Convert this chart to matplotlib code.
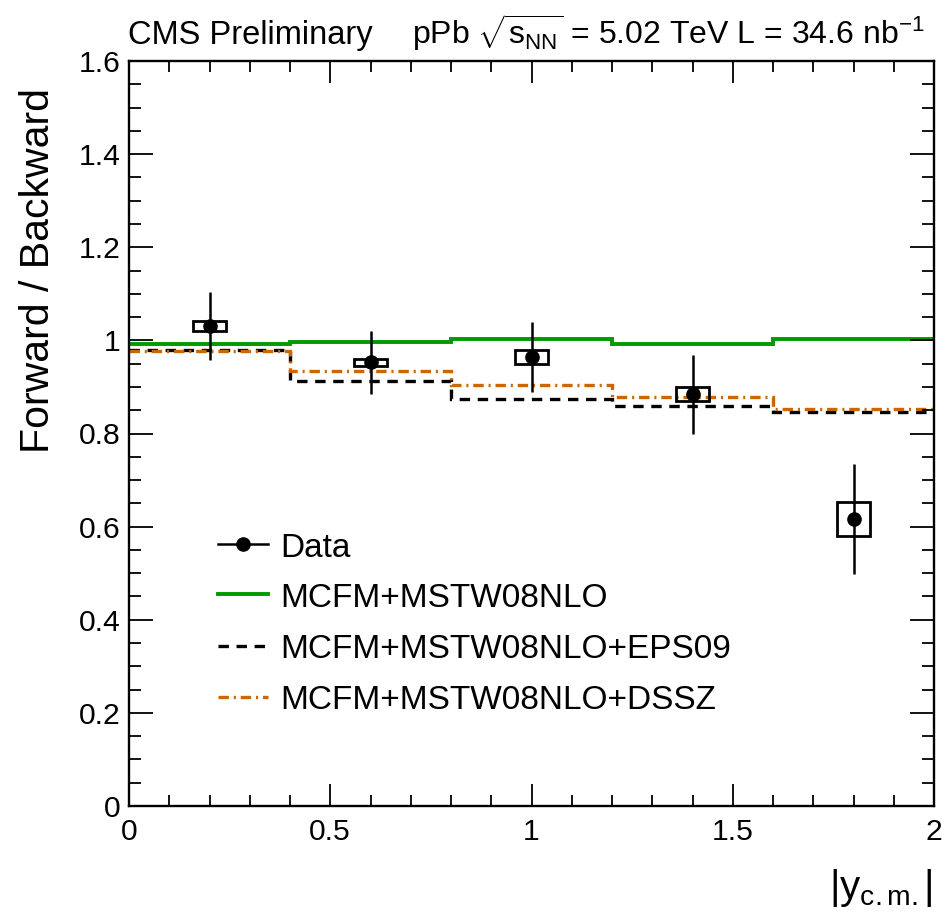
import matplotlib
matplotlib.use("Agg")
import matplotlib.pyplot as plt
from matplotlib.lines import Line2D
from matplotlib.patches import Rectangle
from matplotlib.ticker import MultipleLocator, FuncFormatter
import numpy as np

plt.rcParams['font.family'] = ['Liberation Sans', 'DejaVu Sans']
plt.rcParams['mathtext.fontset'] = 'custom'
plt.rcParams['mathtext.rm'] = 'Liberation Sans'
plt.rcParams['mathtext.it'] = 'Liberation Sans:italic'
plt.rcParams['mathtext.bf'] = 'Liberation Sans:bold'
plt.rcParams['lines.scale_dashes'] = False

# rapidity bins and measured forward/backward ratio
bin_edges = [0.0, 0.4, 0.8, 1.2, 1.6, 2.0]
bin_centers = [0.2, 0.6, 1.0, 1.4, 1.8]
data_ratio = [1.031, 0.953, 0.964, 0.884, 0.616]
data_stat = [0.073, 0.068, 0.075, 0.085, 0.118]
data_syst = [0.011, 0.008, 0.015, 0.015, 0.036]
box_halfwidth = 0.04

# theory predictions per bin
mcfm_mstw = [0.993, 0.996, 1.003, 0.992, 1.002]
mcfm_eps09 = [0.979, 0.913, 0.874, 0.858, 0.846]
mcfm_dssz = [0.977, 0.935, 0.904, 0.879, 0.853]

labels = ["Data", "MCFM+MSTW08NLO", "MCFM+MSTW08NLO+EPS09", "MCFM+MSTW08NLO+DSSZ"]

green = '#009900'
orange = '#cc6600'

W, H = 942, 914
fig = plt.figure(figsize=(W / 100, H / 100), dpi=100)
ax = fig.add_axes([129 / W, (H - 806) / H, 805 / W, 745 / H])

dash_black = (0, (7.5, 5.5))
dash_orange = (0, (7.5, 3.5, 1.5, 3.5))

ax.stairs(mcfm_mstw, bin_edges, color=green, lw=2.8, baseline=None)
ax.stairs(mcfm_eps09, bin_edges, color='black', lw=2.4, ls=dash_black, baseline=None)
ax.stairs(mcfm_dssz, bin_edges, color=orange, lw=2.4, ls=dash_orange, baseline=None)

for xc, yv, es in zip(bin_centers, data_ratio, data_syst):
    ax.add_patch(Rectangle((xc - box_halfwidth, yv - es), 2 * box_halfwidth, 2 * es,
                           fill=False, ec='black', lw=2.0, zorder=4))
ax.errorbar(bin_centers, data_ratio, yerr=data_stat, fmt='o', color='black',
            ms=9.5, elinewidth=1.8, capsize=0, zorder=5)

ax.set_xlim(0, 2)
ax.set_ylim(0, 1.6)
ax.xaxis.set_major_locator(MultipleLocator(0.5))
ax.xaxis.set_minor_locator(MultipleLocator(0.1))
ax.yaxis.set_major_locator(MultipleLocator(0.2))
ax.yaxis.set_minor_locator(MultipleLocator(0.05))
fmt = FuncFormatter(lambda v, p: ('%g' % round(v, 3)))
ax.xaxis.set_major_formatter(fmt)
ax.yaxis.set_major_formatter(fmt)
ax.tick_params(which='both', direction='in', top=True, right=True,
               labelsize=21.7, width=1.3)
ax.tick_params(axis='y', which='major', length=17, pad=6)
ax.tick_params(axis='y', which='minor', length=8.5)
ax.tick_params(axis='x', which='major', length=16, pad=9)
ax.tick_params(axis='x', which='minor', length=8)
for s in ax.spines.values():
    s.set_linewidth(1.7)

# legend drawn by hand in axes coordinates
rows_y = [0.3517, 0.2846, 0.2152, 0.1467]
hx0, hx1, tx = 0.1106, 0.1727, 0.1876
ax.add_line(Line2D([hx0, hx1], [rows_y[0]] * 2, color='black', lw=1.8,
                   transform=ax.transAxes))
ax.add_line(Line2D([(hx0 + hx1) / 2], [rows_y[0]], marker='o', ms=9.5, color='black',
                   transform=ax.transAxes))
ax.add_line(Line2D([hx0, hx1], [rows_y[1]] * 2, color=green, lw=2.8,
                   transform=ax.transAxes))
ax.add_line(Line2D([hx0, hx1], [rows_y[2]] * 2, color='black', lw=2.4, ls=dash_black,
                   transform=ax.transAxes))
ax.add_line(Line2D([hx0, hx1], [rows_y[3]] * 2, color=orange, lw=2.4, ls=dash_orange,
                   transform=ax.transAxes))
for yy, lab in zip(rows_y, labels):
    ax.text(tx, yy - 0.0055, lab, transform=ax.transAxes, fontsize=24,
            va='center', ha='left')

# axis titles
fig.text(38 / W, (H - 88) / H, 'Forward / Backward', rotation=90, fontsize=29.5,
         ha='center', va='top')
fig.text(933 / W, (H - 899) / H, r'|y$_{\mathrm{c.m.}}$|', fontsize=29,
         ha='right', va='baseline')

# header
fig.text(128 / W, (H - 44) / H, 'CMS Preliminary', fontsize=23.5, ha='left', va='baseline')
fig.text(925 / W, (H - 44) / H,
         r'pPb $\sqrt{\mathrm{s}_{\mathrm{NN}}}$ = 5.02 TeV L = 34.6 nb$^{\mathrm{-1}}$',
         fontsize=23, ha='right', va='baseline')

fig.savefig('out.png', dpi=100)
